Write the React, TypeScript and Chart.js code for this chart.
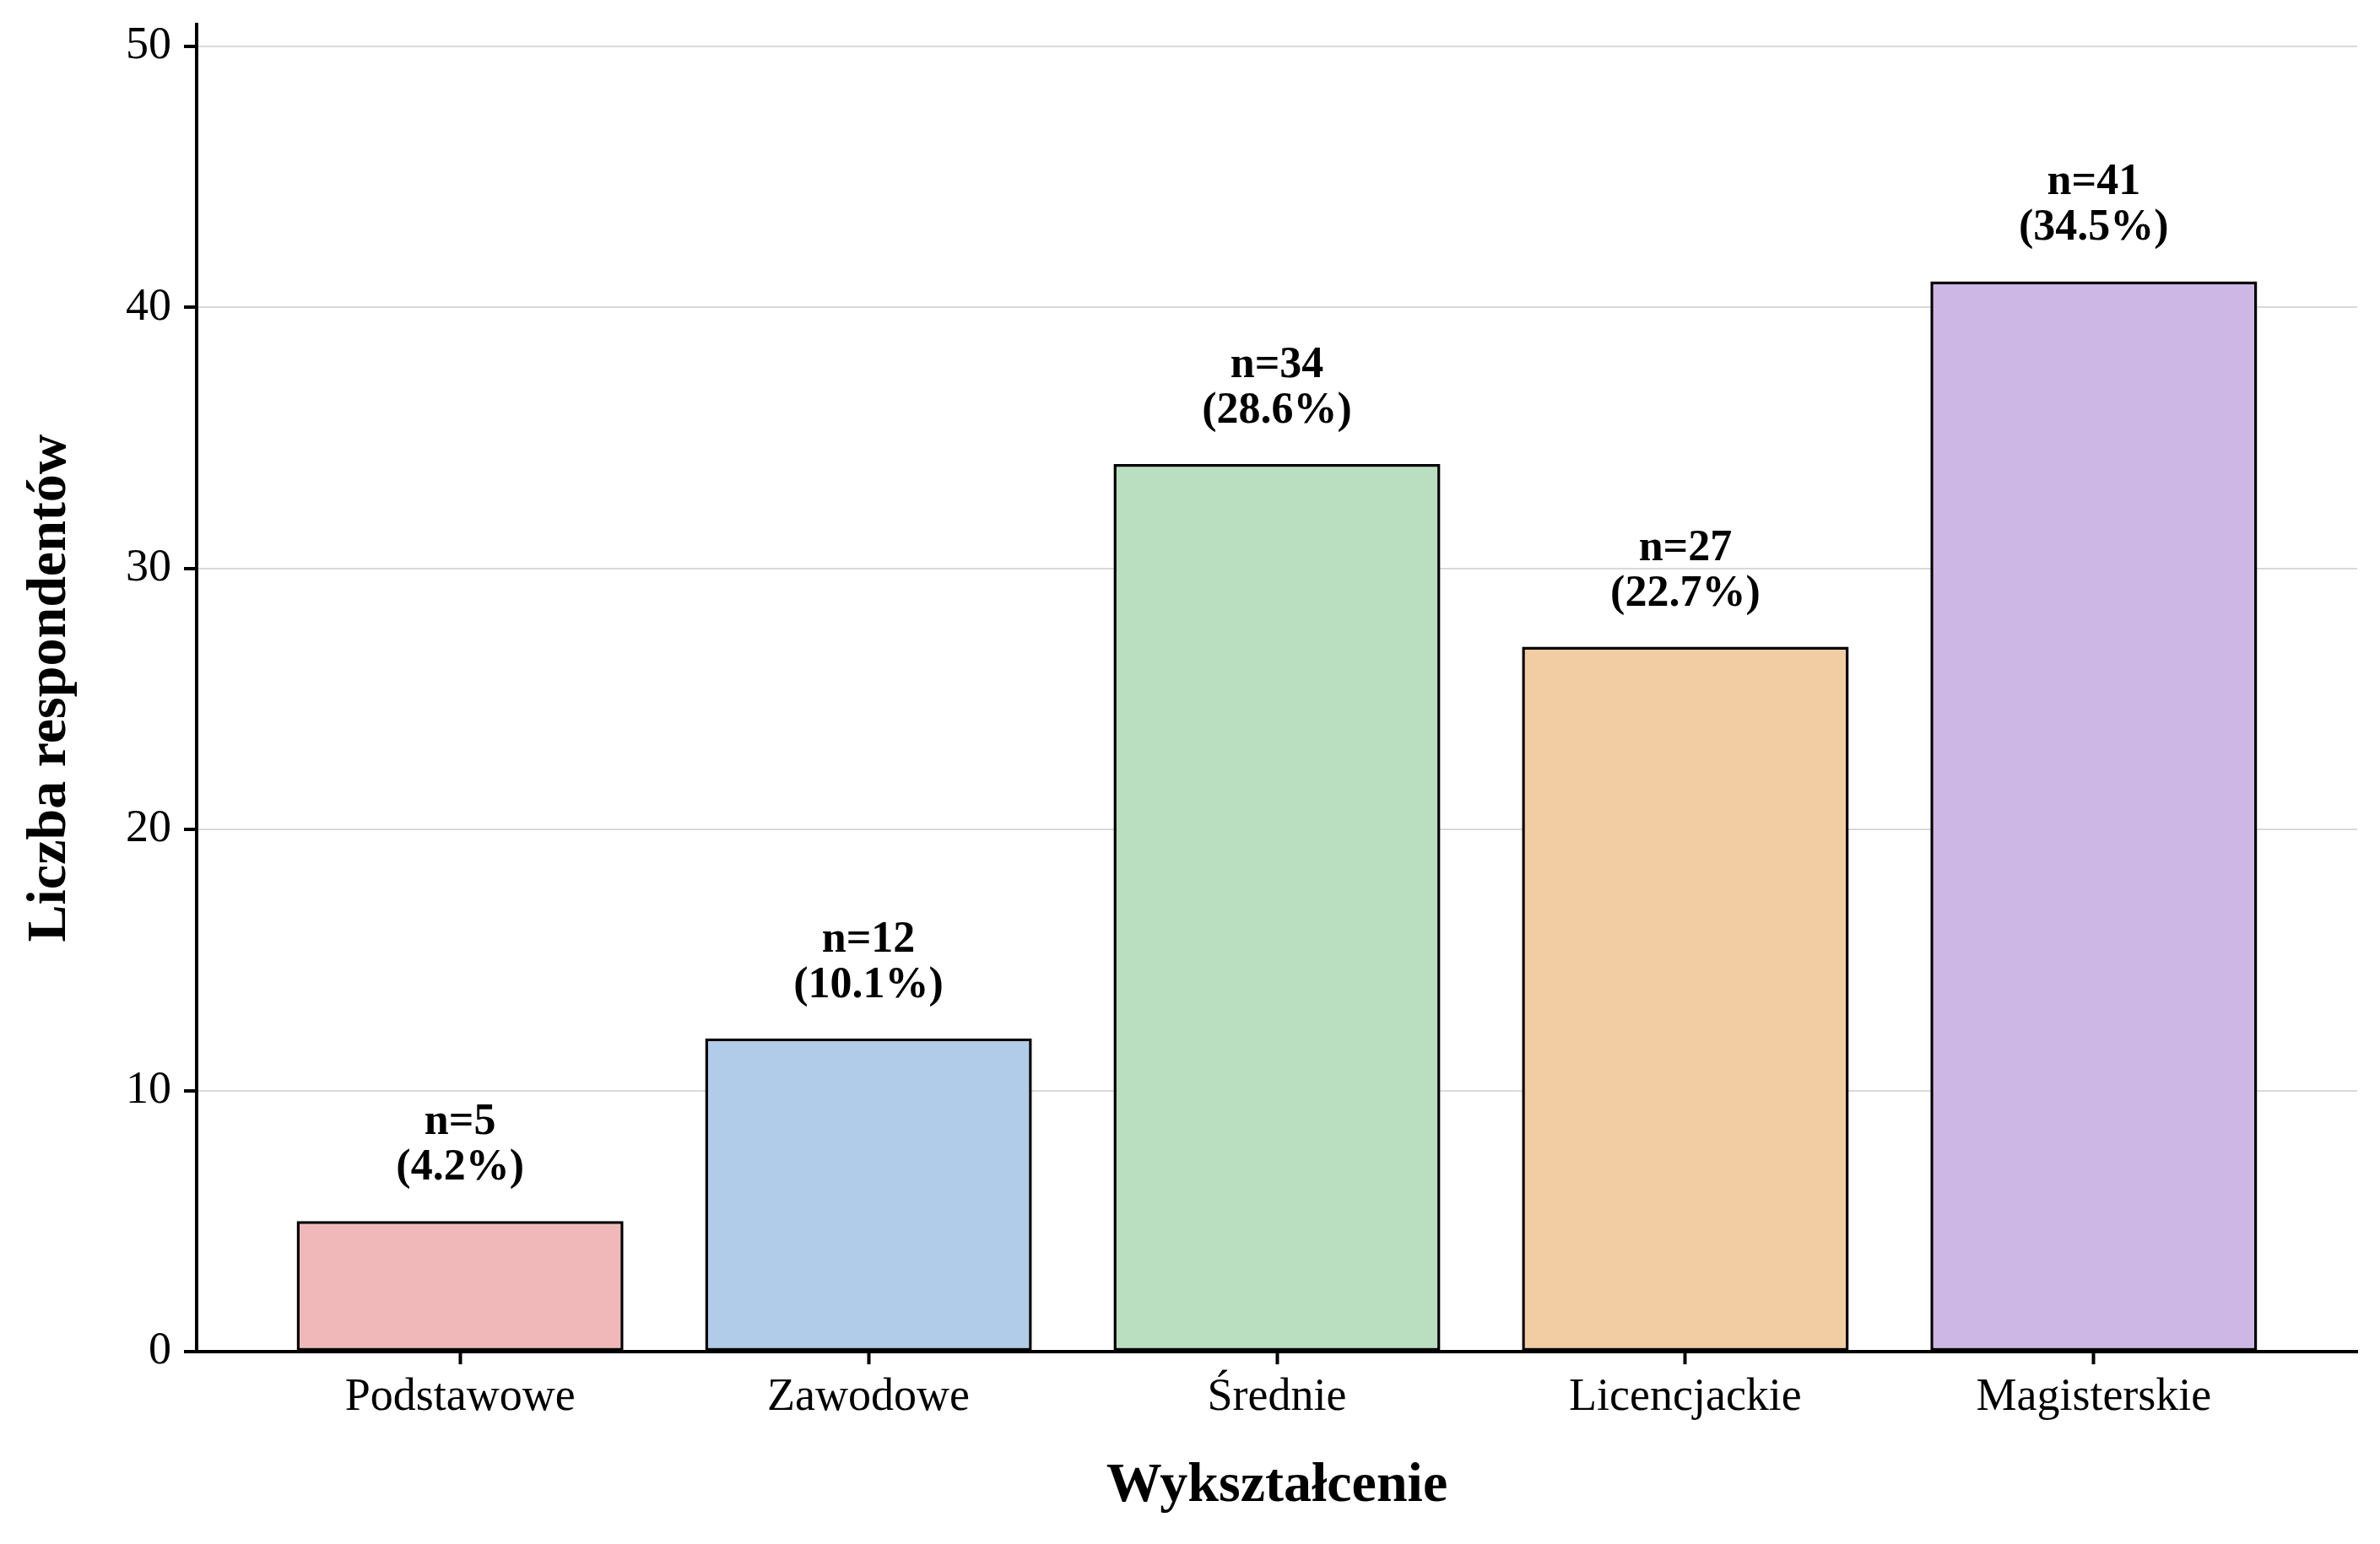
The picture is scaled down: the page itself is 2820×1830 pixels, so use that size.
import React, { useEffect, useRef } from "react";
import { Chart, registerables } from "chart.js";

Chart.register(...registerables);

const categories = ["Podstawowe", "Zawodowe", "Średnie", "Licencjackie", "Magisterskie"];
const counts = [5, 12, 34, 27, 41];
const barColors = ["#f0b8b9", "#b0cce8", "#b9dfc0", "#f2cca3", "#cdb8e5"];
const yTicks = [0, 10, 20, 30, 40, 50];
const xTitle = "Wykształcenie";
const yTitle = "Liczba respondentów";
const yMax = 50.84;
const xMin = -0.645;
const xMax = 4.645;

const FAMILY = '"Liberation Serif", "Times New Roman", Times, serif';

const barLabelPlugin = {
  id: "barLabels",
  afterDatasetsDraw(chart: any) {
    const ctx = chart.ctx;
    const meta = chart.getDatasetMeta(0);
    const total = counts.reduce((a, b) => a + b, 0);
    ctx.save();
    ctx.font = `bold 52px ${FAMILY}`;
    ctx.fillStyle = "#000";
    ctx.textAlign = "center";
    ctx.textBaseline = "alphabetic";
    meta.data.forEach((el: any, i: number) => {
      const { x, y } = el.getProps(["x", "y"], true);
      const pct = ((counts[i] / total) * 100).toFixed(1);
      ctx.fillText(`(${pct}%)`, x, y - 49);
      ctx.fillText(`n=${counts[i]}`, x, y - 103);
    });
    ctx.restore();
  },
};

export default function App() {
  const ref = useRef<HTMLCanvasElement | null>(null);

  useEffect(() => {
    if (!ref.current) return;
    Chart.defaults.font.family = FAMILY;
    const chart = new Chart(ref.current, {
      type: "bar",
      data: {
        datasets: [
          {
            data: counts.map((v, i) => ({ x: i, y: v })),
            backgroundColor: barColors,
            borderColor: "#000",
            borderWidth: 3.5,
            borderSkipped: false,
            categoryPercentage: 1,
            barPercentage: 0.8,
          } as any,
        ],
      },
      options: {
        animation: false,
        responsive: false,
        devicePixelRatio: 1,
        layout: { padding: { top: 29, right: 27, left: 0, bottom: 0 } },
        plugins: {
          legend: { display: false },
          tooltip: { enabled: false },
        },
        scales: {
          x: {
            type: "linear",
            min: xMin,
            max: xMax,
            offset: false,
            afterBuildTicks: (s: any) => {
              s.ticks = categories.map((_, i) => ({ value: i }));
            },
            afterFit: (s: any) => {
              s.height = 228;
              s.paddingLeft = 0;
              s.paddingRight = 0;
            },
            ticks: {
              callback: (_v: any, i: number) => categories[i],
              font: { size: 54, lineHeight: 1 },
              color: "#000",
              padding: 13,
              autoSkip: false,
              maxRotation: 0,
              minRotation: 0,
            },
            grid: {
              display: true,
              drawOnChartArea: false,
              drawTicks: true,
              tickLength: 15,
              tickColor: "#000",
              tickWidth: 4,
              offset: false,
            },
            border: { display: true, color: "#000", width: 4 },
            title: {
              display: true,
              text: xTitle,
              color: "#000",
              font: { size: 66, weight: "bold" },
              padding: { top: 0, bottom: 28 },
            },
          } as any,
          y: {
            type: "linear",
            min: 0,
            max: yMax,
            afterBuildTicks: (s: any) => {
              s.ticks = yTicks.map((v) => ({ value: v }));
            },
            afterFit: (s: any) => {
              s.width = 233;
              s.paddingTop = 0;
              s.paddingBottom = 0;
            },
            ticks: {
              font: { size: 54, lineHeight: 1 },
              color: "#000",
              padding: 15,
            },
            grid: {
              color: "#d9d9d9",
              lineWidth: 2,
              drawTicks: true,
              tickLength: 15,
              tickColor: "#000",
              tickWidth: 4,
            },
            border: { display: true, color: "#000", width: 4 },
            title: {
              display: true,
              text: yTitle,
              color: "#000",
              font: { size: 66, weight: "bold" },
              padding: { top: 20, bottom: 0 },
            },
          } as any,
        },
      },
      plugins: [barLabelPlugin],
    });
    return () => chart.destroy();
  }, []);

  return (
    <div style={{ position: "absolute", left: 0, top: 0, width: 2820, height: 1830, background: "#fff" }}>
      <canvas
        ref={ref}
        width={2820}
        height={1830}
        style={{ display: "block", width: "2820px", height: "1830px" }}
      />
    </div>
  );
}
